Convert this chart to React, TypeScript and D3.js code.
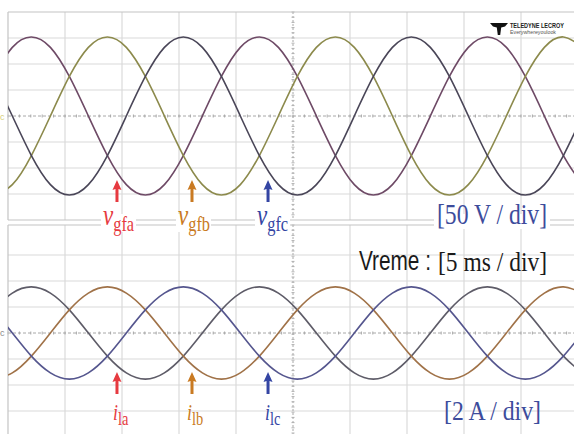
import React from "react";
import * as d3 from "d3";

// ---- data (time in ms, voltage in V, current in A) ----
const sampleTimes = [
  -1.28, 0.38, 2.05, 3.72, 5.38, 7.05, 8.72, 10.38, 12.05, 13.72, 15.38, 17.05,
  18.72, 20.38, 22.05, 23.72, 25.38, 27.05, 28.72, 30.38, 32.05, 33.72, 35.38, 37.05,
  38.72, 40.38, 42.05, 43.72, 45.38, 47.05, 48.72, 50.38,
];
const vgfa = [
  76, 132, 152, 132, 76, 0, -76, -132, -152, -132, -76, 0,
  76, 132, 152, 132, 76, 0, -76, -132, -152, -132, -76, 0,
  76, 132, 152, 132, 76, 0, -76, -132,
];
const vgfb = [
  -152, -132, -76, 0, 76, 132, 152, 132, 76, 0, -76, -132,
  -152, -132, -76, 0, 76, 132, 152, 132, 76, 0, -76, -132,
  -152, -132, -76, 0, 76, 132, 152, 132,
];
const vgfc = [
  76, 0, -76, -132, -152, -132, -76, 0, 76, 132, 152, 132,
  76, 0, -76, -132, -152, -132, -76, 0, 76, 132, 152, 132,
  76, 0, -76, -132, -152, -132, -76, 0,
];
const ila = [
  1.78, 3.07, 3.55, 3.07, 1.78, 0, -1.78, -3.07, -3.55, -3.07, -1.78, 0,
  1.78, 3.07, 3.55, 3.07, 1.78, 0, -1.78, -3.07, -3.55, -3.07, -1.78, 0,
  1.78, 3.07, 3.55, 3.07, 1.78, 0, -1.78, -3.07,
];
const ilb = [
  -3.55, -3.07, -1.78, 0, 1.78, 3.07, 3.55, 3.07, 1.78, 0, -1.78, -3.07,
  -3.55, -3.07, -1.78, 0, 1.78, 3.07, 3.55, 3.07, 1.78, 0, -1.78, -3.07,
  -3.55, -3.07, -1.78, 0, 1.78, 3.07, 3.55, 3.07,
];
const ilc = [
  1.78, 0, -1.78, -3.07, -3.55, -3.07, -1.78, 0, 1.78, 3.07, 3.55, 3.07,
  1.78, 0, -1.78, -3.07, -3.55, -3.07, -1.78, 0, 1.78, 3.07, 3.55, 3.07,
  1.78, 0, -1.78, -3.07, -3.55, -3.07, -1.78, 0,
];
const timeGrid = [0, 5, 10, 15, 20, 25, 30, 35, 40, 45, 50];
const voltGrid = [-150, -100, -50, 0, 50, 100, 150];
const currGrid = [-6, -4, -2, 0, 2, 4, 6];
const phaseNames = ["a", "b", "c"];
const markerTimes = [9.56, 16.14, 22.81];
const voltScaleLabel = "[50 V / div]";
const currScaleLabel = "[2 A / div]";
const timeLabelWord = "Vreme :";
const timeScaleLabel = "[5 ms / div]";

const W = 574;
const H = 434;
const RED = "#e63a40";
const ORANGE = "#c97a22";
const BLUE = "#3445a3";
const TXTBLUE = "#3d4c9c";
const markColors = [RED, ORANGE, BLUE];
const vColors = ["#6e4a66", "#8c8a4c", "#4a4658"];
const iColors = ["#5e5c68", "#a07248", "#55568e"];
const GRID = "#dadada";
const BORDER = "#c4c4c4";

const x = d3.scaleLinear().domain([0, 50]).range([8, 578]);
const yV = d3.scaleLinear().domain([-200, 200]).range([220, 12]);
const yI = d3.scaleLinear().domain([-8, 8]).range([437, 229]);

function tracePath(vals: number[], y: d3.ScaleLinear<number, number>) {
  const pts: [number, number][] = sampleTimes.map((t, i) => [x(t), y(vals[i])]);
  return d3.line().curve(d3.curveNatural)(pts) || "";
}

function Arrow({ cx, tip, color }: { cx: number; tip: number; color: string }) {
  const d = `M${cx},${tip} L${cx + 4.5},${tip + 10} L${cx + 1.5},${tip + 9} L${cx + 1.5},${tip + 22} L${cx - 1.5},${tip + 22} L${cx - 1.5},${tip + 9} L${cx - 4.5},${tip + 10} Z`;
  return <path d={d} fill={color} />;
}

function CenterLines({ top, bottom, yc }: { top: number; bottom: number; yc: number }) {
  const hticks = d3.range(8, 578, 57 / 5);
  const vticks = d3.range(top, bottom, 26 / 5);
  const cx = x(25);
  return (
    <g>
      <line x1={8} x2={578} y1={yc} y2={yc} stroke="#a8a8a8" strokeWidth={1} strokeDasharray="3,2" />
      {hticks.map((t, i) => (
        <line key={"h" + i} x1={t} x2={t} y1={yc - 1.5} y2={yc + 1.5} stroke="#a8a8a8" strokeWidth={1} />
      ))}
      <line x1={cx} x2={cx} y1={top} y2={bottom} stroke="#a8a8a8" strokeWidth={1} strokeDasharray="2,2" />
      {vticks.map((t, i) => (
        <line key={"v" + i} x1={cx - 1.5} x2={cx + 1.5} y1={t} y2={t} stroke="#b0b0b0" strokeWidth={1} />
      ))}
    </g>
  );
}

export default function App() {
  const vSeries = [vgfa, vgfb, vgfc];
  const iSeries = [ila, ilb, ilc];
  const vLabelX = [103, 178, 257];
  const iLabelX = [113, 187, 265];
  return (
    <svg
      width={W}
      height={H}
      style={{ position: "absolute", left: 0, top: 0, background: "#fff" }}
      xmlns="http://www.w3.org/2000/svg"
    >
      <defs>
        <clipPath id="clipTop">
          <rect x={8} y={12} width={570} height={208} />
        </clipPath>
        <clipPath id="clipBot">
          <rect x={8} y={225} width={570} height={212} />
        </clipPath>
      </defs>
      <rect x={0} y={0} width={W} height={H} fill="#fff" />

      {/* top panel grid */}
      <g>
        {timeGrid.filter((t) => t !== 25 && t > 0).map((t) => (
          <line key={"tv" + t} x1={x(t)} x2={x(t)} y1={12} y2={220} stroke={GRID} strokeWidth={1.2} />
        ))}
        {voltGrid.filter((v) => v !== 0).map((v) => (
          <line key={"th" + v} x1={8} x2={578} y1={yV(v)} y2={yV(v)} stroke={GRID} strokeWidth={1.2} />
        ))}
        <CenterLines top={12} bottom={220} yc={yV(0)} />
        <line x1={8} x2={578} y1={12} y2={12} stroke={BORDER} strokeWidth={1.2} />
        <line x1={8} x2={8} y1={12} y2={220} stroke={BORDER} strokeWidth={1.2} />
        <line x1={8} x2={578} y1={220} y2={220} stroke={BORDER} strokeWidth={1.2} />
      </g>

      {/* bottom panel grid */}
      <g>
        {timeGrid.filter((t) => t !== 25 && t > 0).map((t) => (
          <line key={"bv" + t} x1={x(t)} x2={x(t)} y1={225} y2={437} stroke={GRID} strokeWidth={1.2} />
        ))}
        {currGrid.filter((v) => v !== 0).map((v) => (
          <line key={"bh" + v} x1={8} x2={578} y1={yI(v)} y2={yI(v)} stroke={GRID} strokeWidth={1.2} />
        ))}
        <CenterLines top={225} bottom={437} yc={yI(0)} />
        <line x1={8} x2={578} y1={225} y2={225} stroke={BORDER} strokeWidth={1.2} />
        <line x1={8} x2={8} y1={225} y2={437} stroke={BORDER} strokeWidth={1.2} />
      </g>

      {/* traces */}
      <g clipPath="url(#clipTop)">
        {vSeries.map((s, i) => (
          <path key={"v" + i} d={tracePath(s, yV)} fill="none" stroke={vColors[i]} strokeWidth={1.6} />
        ))}
      </g>
      <g clipPath="url(#clipBot)">
        {iSeries.map((s, i) => (
          <path key={"i" + i} d={tracePath(s, yI)} fill="none" stroke={iColors[i]} strokeWidth={1.6} />
        ))}
      </g>

      {/* channel markers */}
      <text x={0} y={120} fontSize={9} fill="#d6cf7a" fontFamily="Liberation Sans">c</text>
      <text x={0} y={336} fontSize={9} fill="#8a8a8a" fontFamily="Liberation Sans">c</text>

      {/* logo */}
      <g>
        <path d="M490,23 L508,23 L505,26.5 L501.2,27.5 L500.2,35 L497.8,35 L496.8,27.5 L493,26.5 Z" fill="#111" />
        <text x={510} y={28} fontSize={6.5} fontWeight="bold" fill="#222" fontFamily="Liberation Sans" textLength={54} lengthAdjust="spacingAndGlyphs">TELEDYNE LECROY</text>
        <text x={510} y={34} fontSize={5} fill="#555" fontFamily="Liberation Sans" textLength={46} lengthAdjust="spacingAndGlyphs">Everywhereyoulook</text>
      </g>

      {/* arrows */}
      {markerTimes.map((t, i) => (
        <g key={"ar" + i}>
          <Arrow cx={x(t)} tip={180} color={markColors[i]} />
          <Arrow cx={x(t)} tip={372} color={markColors[i]} />
        </g>
      ))}

      {/* voltage labels */}
      {phaseNames.map((p, i) => (
        <g key={"vl" + i}>
          <rect x={vLabelX[i] - 2} y={214} width={35} height={18} fill="#fff" />
          <text
            transform={`translate(${vLabelX[i]},225) scale(0.82,1.08)`}
            fill={markColors[i]}
            fontFamily="Liberation Serif"
          >
            <tspan fontSize={28} fontStyle="italic">v</tspan>
            <tspan fontSize={20} dy={6}>{"gf" + p}</tspan>
          </text>
        </g>
      ))}

      {/* current labels */}
      {phaseNames.map((p, i) => (
        <text
          key={"il" + i}
          transform={`translate(${iLabelX[i]},420) scale(0.85,1.08)`}
          fill={markColors[i]}
          fontFamily="Liberation Serif"
        >
          <tspan fontSize={21} fontStyle="italic">i</tspan>
          <tspan fontSize={17} dy={4.5}>{"l" + p}</tspan>
        </text>
      ))}

      {/* scale labels */}
      <rect x={434} y={214} width={116} height={15} fill="#fff" />
      <text x={437} y={224} fontSize={29} fill={TXTBLUE} fontFamily="Liberation Serif" textLength={110} lengthAdjust="spacingAndGlyphs">{voltScaleLabel}</text>
      <text transform="translate(359,270) scale(0.77,1)" fontSize={27} fill="#1a1a1a" fontFamily="Liberation Sans">{timeLabelWord}</text>
      <text x={438} y={271} fontSize={28} fill="#1a1a1a" fontFamily="Liberation Serif" textLength={109} lengthAdjust="spacingAndGlyphs">{timeScaleLabel}</text>
      <text x={444} y={420} fontSize={28} fill={TXTBLUE} fontFamily="Liberation Serif" textLength={97} lengthAdjust="spacingAndGlyphs">{currScaleLabel}</text>
    </svg>
  );
}
